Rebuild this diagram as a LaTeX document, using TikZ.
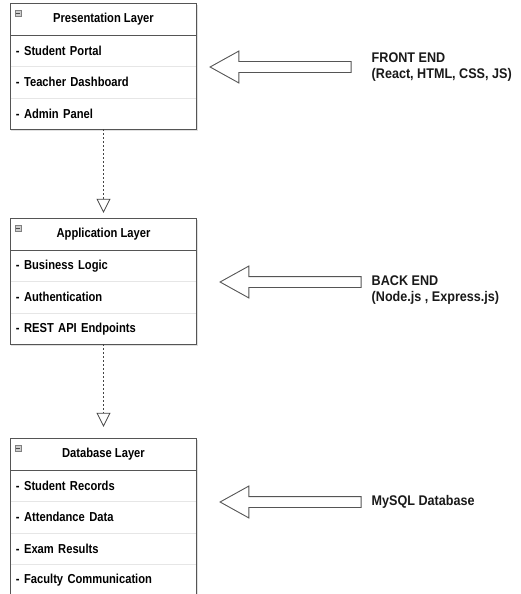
\documentclass[tikz,border=0pt]{standalone}
\usepackage{fontspec}
\setmainfont{Liberation Sans}
\newfontfamily\boxfont{Liberation Sans}[FakeStretch=0.86]
\newfontfamily\tierfont{Liberation Sans}[FakeStretch=0.9]
\usetikzlibrary{calc,%
                shapes,%
                arrows.meta,%
                positioning,%
                shadows,%
                backgrounds}
\definecolor{frame-gray}{RGB}{85,85,85}
\definecolor{row-gray}{RGB}{230,230,230}
\definecolor{icon-gray}{RGB}{205,205,205}
\pgfdeclarelayer{background}
\pgfsetlayers{background,main}
\tikzset{
  layerhead/.style={minimum width=186pt, minimum height=31pt, inner sep=0pt,
    font=\boxfont\bfseries\fontsize{13}{15}\selectfont},
  layeritem/.style={minimum width=186pt, minimum height=31pt, inner xsep=5.5pt,
    inner ysep=0pt, text width=175pt, align=left,
    font=\boxfont\bfseries\fontsize{13}{15}\selectfont},
  layerframe/.style={draw=frame-gray, fill=white, line width=0.8pt,
    drop shadow={shadow xshift=1pt, shadow yshift=-1.5pt, opacity=0.3, fill=black!40}},
  headline/.style={draw=frame-gray, line width=0.8pt},
  rowline/.style={draw=row-gray, line width=0.6pt, shorten <=0.6pt, shorten >=0.6pt},
  minusicon/.style={draw=gray, fill=icon-gray, minimum size=6pt, inner sep=0pt},
  depline/.style={draw=frame-gray!80!black, line width=1pt, dash pattern=on 2pt off 2pt,
    -{Triangle[open, length=14pt, width=14pt, line width=0.8pt]}},
  blockarrow/.style={single arrow, shape border rotate=180, draw=frame-gray,
    line width=0.9pt, fill=white, minimum height=141pt, minimum width=31pt,
    inner xsep=0pt, inner ysep=5pt, single arrow head extend=10.5pt,
    single arrow tip angle=58},
  sidelabel/.style={align=left, inner sep=0pt, text=black!90,
    font=\tierfont\bfseries\fontsize{14}{16}\selectfont},
}
\begin{document}
\begin{tikzpicture}[x=1pt, y=-1pt]
  \useasboundingbox (0,0) rectangle (521,594);
  \clip (0,0) rectangle (521,594);

  % Presentation layer
  \node[layerhead] (pres) at (103.5,19.5) {Presentation Layer};
  \node[layeritem, below=0pt of pres] (pres1) {- Student Portal};
  \node[layeritem, below=0pt of pres1] (pres2) {- Teacher Dashboard};
  \node[layeritem, below=0pt of pres2] (pres3) {- Admin Panel};

  % Application layer
  \node[layerhead] (app) at (103.5,234.5) {Application Layer};
  \node[layeritem, below=0pt of app] (app1) {- Business Logic};
  \node[layeritem, below=0pt of app1] (app2) {- Authentication};
  \node[layeritem, below=0pt of app2] (app3) {- REST API Endpoints};

  % Database layer
  \node[layerhead] (db) at (103.5,454.5) {Database Layer};
  \node[layeritem, below=0pt of db] (db1) {- Student Records};
  \node[layeritem, below=0pt of db1] (db2) {- Attendance Data};
  \node[layeritem, below=0pt of db2] (db3) {- Exam Results};
  \node[layeritem, below=0pt of db3] (db4) {- Faculty Communication};

  \begin{pgfonlayer}{background}
    \draw[layerframe] (pres.north west) rectangle (pres3.south east);
    \draw[layerframe] (app.north west) rectangle (app3.south east);
    \draw[layerframe] (db.north west) rectangle ($(db4.south east)+(0,8)$);
  \end{pgfonlayer}

  \draw[headline] (pres.south west) -- (pres.south east);
  \draw[headline] (app.south west) -- (app.south east);
  \draw[headline] (db.south west) -- (db.south east);

  \draw[rowline] (pres1.south west) -- (pres1.south east);
  \draw[rowline] (pres2.south west) -- (pres2.south east);
  \draw[rowline] (app1.south west) -- (app1.south east);
  \draw[rowline] (app2.south west) -- (app2.south east);
  \draw[rowline] (db1.south west) -- (db1.south east);
  \draw[rowline] (db2.south west) -- (db2.south east);
  \draw[rowline] (db3.south west) -- (db3.south east);

  % collapse icons
  \node[minusicon] (presIcon) at ($(pres.north west)+(7.5,9)$) {};
  \node[minusicon] (appIcon) at ($(app.north west)+(7.5,9)$) {};
  \node[minusicon] (dbIcon) at ($(db.north west)+(7.5,9)$) {};
  \draw[gray!60!black] ($(presIcon.west)+(1,0)$) -- ($(presIcon.east)+(-1,0)$);
  \draw[gray!60!black] ($(appIcon.west)+(1,0)$) -- ($(appIcon.east)+(-1,0)$);
  \draw[gray!60!black] ($(dbIcon.west)+(1,0)$) -- ($(dbIcon.east)+(-1,0)$);

  % dependencies
  \draw[depline, shorten >=6pt] (pres3.south) -- (app.north);
  \draw[depline, shorten >=12pt] (app3.south) -- (db.north);

  % tiers
  \node[blockarrow] (feArrow) at (285.5,67) {};
  \node[blockarrow] (beArrow) at (295.5,282) {};
  \node[blockarrow] (dbArrow) at (295.5,502) {};

  \node[sidelabel, right=20pt of feArrow.tail] (feLabel) {FRONT END\\(React, HTML, CSS, JS)};
  \node[sidelabel, right=10pt of beArrow.tail, yshift=-8pt] (beLabel) {BACK END\\(Node.js , Express.js)};
  \node[sidelabel, right=10pt of dbArrow.tail] (dbLabel) {MySQL Database};
\end{tikzpicture}
\end{document}
